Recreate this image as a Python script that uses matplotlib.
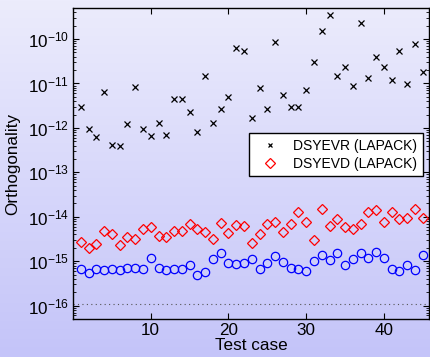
import numpy as np
import matplotlib
matplotlib.use("Agg")
import matplotlib.pyplot as plt
from matplotlib.ticker import FixedLocator, LogLocator, NullFormatter

plt.rcParams['font.family'] = ['Liberation Sans', 'DejaVu Sans']
plt.rcParams['mathtext.fontset'] = 'custom'
plt.rcParams['mathtext.rm'] = 'Liberation Sans'
plt.rcParams['mathtext.it'] = 'Liberation Sans:italic'

# orthogonality error per test case
cases = np.arange(1, 46)
dsyevr = [2.9e-12, 9.5e-13, 6.1e-13, 6.6e-12, 4.2e-13, 4.0e-13, 1.2e-12, 8.4e-12, 9.5e-13, 6.6e-13,
          1.3e-12, 6.8e-13, 4.5e-12, 4.5e-12, 2.3e-12, 8.0e-13, 1.45e-11, 1.3e-12, 2.7e-12, 4.9e-12,
          6.3e-11, 5.4e-11, 1.7e-12, 7.9e-12, 2.6e-12, 8.7e-11, 5.5e-12, 3.0e-12, 3.0e-12, 7.1e-12,
          3.0e-11, 1.5e-10, 3.5e-10, 1.5e-11, 2.3e-11, 8.7e-12, 2.3e-10, 1.3e-11, 3.9e-11, 2.4e-11,
          1.2e-11, 5.4e-11, 9.5e-12, 7.7e-11, 1.8e-11]
dsyevd = [2.7e-15, 1.95e-15, 2.4e-15, 4.9e-15, 4.0e-15, 2.3e-15, 3.5e-15, 3.2e-15, 5.4e-15, 6.0e-15,
          3.6e-15, 3.5e-15, 4.8e-15, 4.7e-15, 6.8e-15, 5.4e-15, 4.5e-15, 3.1e-15, 7.3e-15, 4.3e-15,
          6.5e-15, 6.1e-15, 2.6e-15, 4.1e-15, 6.9e-15, 7.8e-15, 4.6e-15, 6.9e-15, 1.25e-14, 7.7e-15,
          3.0e-15, 1.5e-14, 6.3e-15, 9.1e-15, 5.9e-15, 5.4e-15, 6.9e-15, 1.25e-14, 1.4e-14, 7.8e-15,
          1.25e-14, 8.9e-15, 9.5e-15, 1.5e-14, 9.5e-15]
mrrr = [6.8e-16, 5.5e-16, 6.8e-16, 6.2e-16, 6.8e-16, 6.3e-16, 7.2e-16, 6.9e-16, 6.7e-16, 1.2e-15,
        7.1e-16, 6.4e-16, 6.6e-16, 6.6e-16, 8.3e-16, 4.8e-16, 5.8e-16, 1.1e-15, 1.5e-15, 8.9e-16,
        8.5e-16, 9.3e-16, 1.1e-15, 6.6e-16, 9.3e-16, 1.3e-15, 9.8e-16, 6.9e-16, 6.7e-16, 5.9e-16,
        1.0e-15, 1.4e-15, 1.05e-15, 1.5e-15, 8.3e-16, 1.1e-15, 1.5e-15, 1.2e-15, 1.65e-15, 1.2e-15,
        6.8e-16, 5.9e-16, 8.3e-16, 6.4e-16, 1.35e-15]
eps_half = 1.11e-16
y_decades = [1e-16, 1e-15, 1e-14, 1e-13, 1e-12, 1e-11, 1e-10]

fig = plt.figure(figsize=(4.30, 3.57), dpi=100)

# lavender gradient behind everything
bg = fig.add_axes([0, 0, 1, 1], zorder=-1)
top = np.array([236, 236, 252]) / 255
bottom = np.array([196, 196, 249]) / 255
t = np.linspace(0, 1, 256)[:, None]
grad = (top * (1 - t) + bottom * t)[:, None, :]
bg.imshow(grad, aspect='auto', extent=[0, 1, 0, 1])
bg.axis('off')

ax = fig.add_axes([73 / 430, 38 / 357, 356 / 430, 311 / 357])
ax.set_facecolor('none')

ax.axhline(eps_half, color='#555555', linestyle=(0, (1, 3)), linewidth=0.8)
ax.plot(cases, mrrr, linestyle='none', marker='o', markersize=6, markerfacecolor='none',
        markeredgecolor='blue', markeredgewidth=0.9)
ax.plot(cases, dsyevd, linestyle='none', marker='D', markersize=5.5, markerfacecolor='none',
        markeredgecolor='red', markeredgewidth=0.9, label='DSYEVD (LAPACK)')
ax.plot(cases, dsyevr, linestyle='none', marker='x', markersize=4, color='black',
        markeredgewidth=0.9, label='DSYEVR (LAPACK)')

ax.set_yscale('log')
ax.set_ylim(5e-17, 5e-10)
ax.set_xlim(0, 45.8)
ax.set_xticks([10, 20, 30, 40])
ax.yaxis.set_major_locator(FixedLocator(y_decades))
ax.yaxis.set_minor_locator(LogLocator(base=10, subs=np.arange(2, 10), numticks=20))
ax.yaxis.set_minor_formatter(NullFormatter())
ax.tick_params(which='both', direction='in', top=True, right=True, labelsize=12.3, pad=3)
ax.tick_params(which='major', length=4, width=0.8)
ax.tick_params(which='minor', length=2, width=0.6)
for s in ax.spines.values():
    s.set_linewidth(1.0)

ax.set_xlabel('Test case', fontsize=12.3, labelpad=0)
ax.set_ylabel('Orthogonality', fontsize=12.3, labelpad=5)

h, l = ax.get_legend_handles_labels()
leg = ax.legend(h[::-1], l[::-1], loc='upper right', bbox_to_anchor=(350 / 356, 186 / 311),
                borderaxespad=0, fancybox=False, edgecolor='black', framealpha=1,
                fontsize=10, markerscale=0.85, handletextpad=0.6, borderpad=0.4,
                labelspacing=0.3, handlelength=2.2)
leg.get_frame().set_linewidth(1.0)

fig.savefig('out.png', dpi=100)
